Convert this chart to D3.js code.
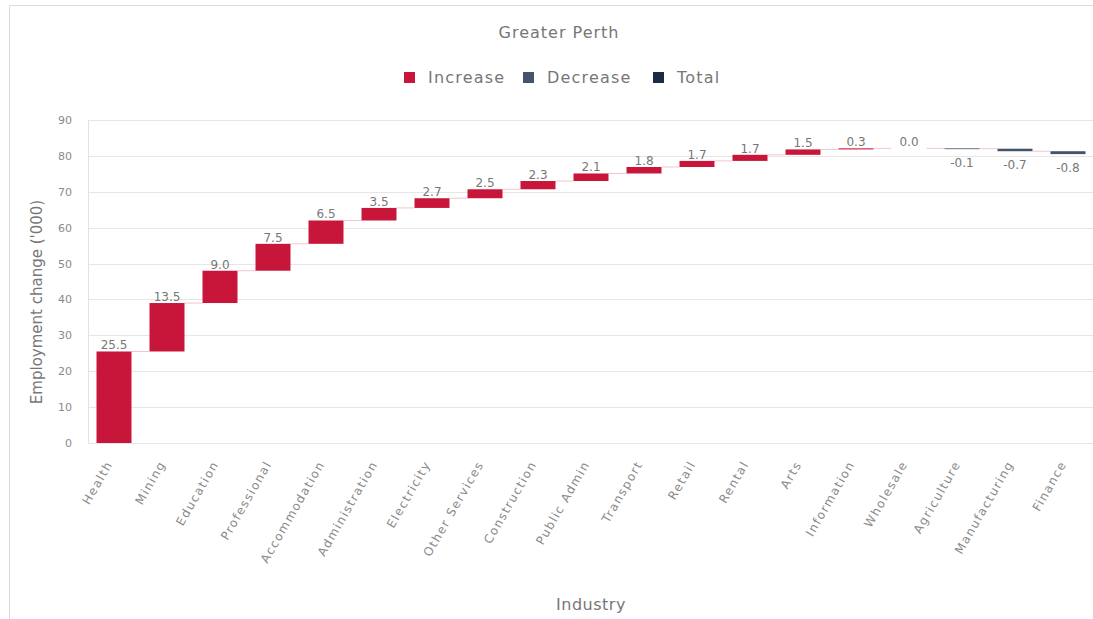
<!DOCTYPE html>
<html>
<head>
<meta charset="utf-8">
<script src="https://cdn.jsdelivr.net/npm/d3@7"></script>
<style>
  html, body { margin: 0; padding: 0; background: #ffffff; }
  svg { display: block; font-family: "DejaVu Sans", "Noto Sans", sans-serif; }
</style>
</head>
<body>
<svg id="chart" width="1093" height="619"></svg>
<script>
// Employment change by industry, Greater Perth ('000)
const industries = ["Health", "Mining", "Education", "Professional", "Accommodation",
  "Administration", "Electricity", "Other Services", "Construction", "Public Admin",
  "Transport", "Retail", "Rental", "Arts", "Information", "Wholesale",
  "Agriculture", "Manufacturing", "Finance"];
const changes = [25.5, 13.5, 9.0, 7.5, 6.5, 3.5, 2.7, 2.5, 2.3, 2.1, 1.8, 1.7, 1.7, 1.5, 0.3, 0.0, -0.1, -0.7, -0.8];
const yTicks = [0, 10, 20, 30, 40, 50, 60, 70, 80, 90];
const legendItems = ["Increase", "Decrease", "Total"];

const colors = { Increase: "#c8163a", Decrease: "#44546a", Total: "#1c2a48" };
const textGrey = "#777777";

const svg = d3.select("#chart");
const W = 1093, H = 619;

// frame around the chart area
svg.append("path")
  .attr("d", `M9.5,${H} V5.5 H${W}`)
  .attr("fill", "none")
  .attr("stroke", "#dcdcdc")
  .attr("stroke-width", 1);

// waterfall steps: running start/end for each industry
let running = 0;
const steps = industries.map((name, i) => {
  const start = running;
  running = +(running + changes[i]).toFixed(2);
  return { name, value: changes[i], start, end: running,
           type: changes[i] >= 0 ? "Increase" : "Decrease" };
});

const x = d3.scaleBand()
  .domain(industries)
  .range([87.5, 1094.5])
  .paddingInner(0.34)
  .paddingOuter(0.17);

const y = d3.scaleLinear().domain([0, 90]).range([443, 120]);

// gridlines
svg.append("g")
  .selectAll("line")
  .data(yTicks)
  .join("line")
  .attr("x1", 88).attr("x2", W)
  .attr("y1", d => Math.round(y(d)) + 0.5)
  .attr("y2", d => Math.round(y(d)) + 0.5)
  .attr("stroke", "#e6e6e6");

// vertical axis line
svg.append("line")
  .attr("x1", 88.5).attr("x2", 88.5)
  .attr("y1", y(90)).attr("y2", y(0))
  .attr("stroke", "#e2e2e2");

// y axis tick labels
const yAxis = d3.axisLeft(y).tickValues(yTicks).tickSize(0).tickPadding(0).tickFormat(d3.format("d"));
const gy = svg.append("g").attr("transform", "translate(72,0)").call(yAxis);
gy.select(".domain").remove();
gy.selectAll("text").attr("fill", "#8a8a8a")
  .style("font-size", "11px")
  .style("font-family", "'DejaVu Sans', sans-serif");

// connector lines between steps
svg.append("g")
  .selectAll("line")
  .data(steps.slice(0, -1))
  .join("line")
  .attr("x1", d => x(d.name) + x.bandwidth())
  .attr("x2", (d, i) => x(industries[i + 1]))
  .attr("y1", d => y(d.end))
  .attr("y2", d => y(d.end))
  .attr("stroke", "#f1c6cd")
  .attr("stroke-width", 1);

// bars
svg.append("g")
  .selectAll("rect")
  .data(steps)
  .join("rect")
  .attr("x", d => x(d.name))
  .attr("width", x.bandwidth())
  .attr("y", d => y(Math.max(d.start, d.end)))
  .attr("height", d => d.value === 0 ? 0 : Math.max(Math.abs(y(d.start) - y(d.end)), 0.8))
  .attr("fill", d => colors[d.type]);

// value labels
svg.append("g")
  .selectAll("text")
  .data(steps)
  .join("text")
  .attr("x", d => x(d.name) + x.bandwidth() / 2)
  .attr("y", d => d.value >= 0 ? y(d.end) - 2 : y(d.end) + 18)
  .attr("text-anchor", "middle")
  .attr("fill", textGrey)
  .style("font-size", "12px")
  .text(d => d.value.toFixed(1));

// x axis category labels, rotated
const xAxis = d3.axisBottom(x).tickSize(0).tickPadding(0);
const gx = svg.append("g").attr("transform", `translate(0,${y(0)})`).call(xAxis);
gx.select(".domain").remove();
gx.selectAll("text")
  .attr("fill", "#8a8a8a")
  .style("font-size", "12px")
  .style("letter-spacing", "1.4px")
  .style("font-family", "'DejaVu Sans', sans-serif")
  .attr("text-anchor", "end")
  .attr("dy", null)
  .attr("y", 0)
  .attr("transform", "translate(-1,21) rotate(-60)");

// title
svg.append("text")
  .attr("x", 559).attr("y", 38)
  .attr("text-anchor", "middle")
  .attr("fill", textGrey)
  .style("font-size", "16px")
  .style("letter-spacing", "1px")
  .text("Greater Perth");

// legend
const legendX = [404, 523, 653];
const lg = svg.append("g")
  .selectAll("g")
  .data(legendItems)
  .join("g")
  .attr("transform", (d, i) => `translate(${legendX[i]},72)`);
lg.append("rect").attr("width", 11).attr("height", 11).attr("fill", d => colors[d]);
lg.append("text").attr("x", 24).attr("y", 11)
  .attr("fill", textGrey)
  .style("font-size", "16px")
  .style("letter-spacing", "1.2px")
  .text(d => d);

// axis titles
svg.append("text")
  .attr("transform", `translate(42,302) rotate(-90)`)
  .attr("text-anchor", "middle")
  .attr("fill", textGrey)
  .style("font-size", "15px")
  .text("Employment change ('000)");

svg.append("text")
  .attr("x", 591).attr("y", 610)
  .attr("text-anchor", "middle")
  .attr("fill", textGrey)
  .style("font-size", "16px")
  .style("letter-spacing", "0.5px")
  .text("Industry");
</script>
</body>
</html>
